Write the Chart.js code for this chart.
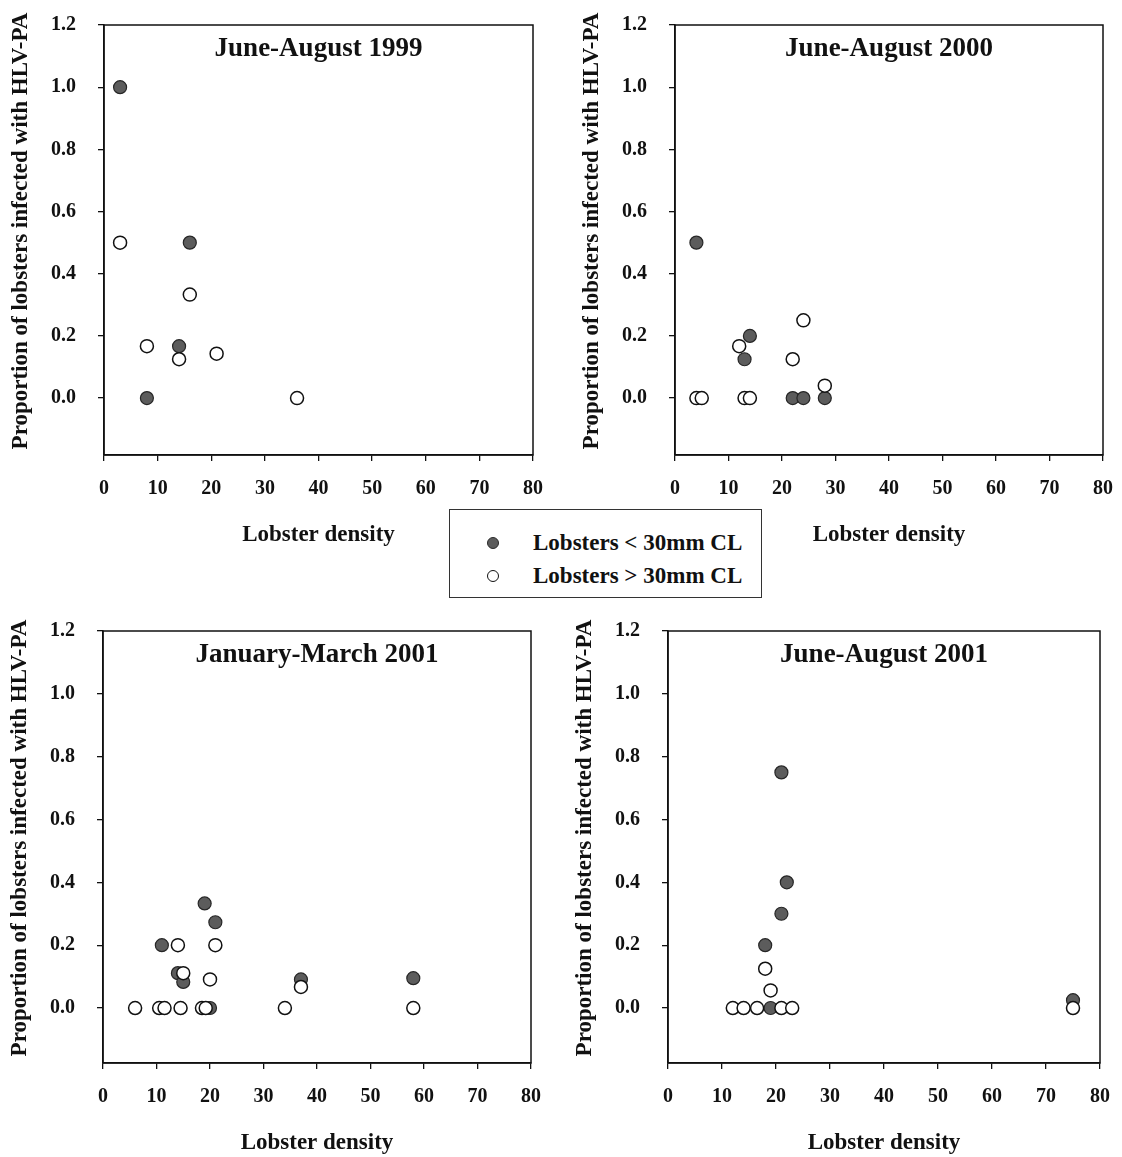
<!DOCTYPE html>
<html>
<head>
<meta charset="utf-8">
<script src="https://cdn.jsdelivr.net/npm/chart.js@4.4.1/dist/chart.umd.min.js"></script>
<style>
  body { margin: 0; background: #fff; width: 1122px; height: 1157px; position: relative; overflow: hidden;
         font-family: "Liberation Serif", "Times New Roman", serif; color: #111; }
  canvas { position: absolute; }
  .legend { position: absolute; left: 449px; top: 509px; width: 311px; height: 87px;
            border: 1.5px solid #333; background: #fff; z-index: 5; }
  .legend .row { position: absolute; left: 0; height: 26px; line-height: 26px; font-size: 23px; font-weight: bold; }
  .legend .dot { position: absolute; left: 37px; top: 7px; width: 12px; height: 12px; border-radius: 50%; box-sizing: border-box; }
  .legend .filled { background: #5c5c5c; border: 1px solid #2a2a2a; }
  .legend .open { background: #fff; border: 1.4px solid #111; }
  .legend .txt { position: absolute; left: 83px; white-space: nowrap; }
</style>
</head>
<body>
<canvas id="c1"></canvas>
<canvas id="c2"></canvas>
<canvas id="c3"></canvas>
<canvas id="c4"></canvas>

<div class="legend">
  <div class="row" style="top:20px"><span class="dot filled"></span><span class="txt">Lobsters &lt; 30mm CL</span></div>
  <div class="row" style="top:53px"><span class="dot open"></span><span class="txt">Lobsters &gt; 30mm CL</span></div>
</div>

<script>
// ---------------- data (lobster density, proportion infected) ----------------
const xTicks = [0, 10, 20, 30, 40, 50, 60, 70, 80];
const yTicks = [0, 0.2, 0.4, 0.6, 0.8, 1.0, 1.2];

const panelTitles = ['June-August 1999', 'June-August 2000', 'January-March 2001', 'June-August 2001'];

const small1999 = [[3, 1.0], [16, 0.5], [14, 0.167], [8, 0]];
const large1999 = [[3, 0.5], [16, 0.333], [8, 0.167], [14, 0.125], [21, 0.143], [36, 0]];

const small2000 = [[4, 0.5], [14, 0.2], [13, 0.125], [22, 0], [24, 0], [28, 0]];
const large2000 = [[24, 0.25], [12, 0.167], [22, 0.125], [28, 0.04], [4, 0], [5, 0], [13, 0], [14, 0]];

const smallJan2001 = [[11, 0.2], [19, 0.333], [21, 0.273], [14, 0.111], [15, 0.083], [20, 0], [37, 0.091], [58, 0.095]];
const largeJan2001 = [[6, 0], [10.5, 0], [11.5, 0], [14.5, 0], [18.5, 0], [19.2, 0], [34, 0], [58, 0],
                      [14, 0.2], [21, 0.2], [15, 0.111], [20, 0.091], [37, 0.067]];

const smallJun2001 = [[21, 0.75], [22, 0.4], [21, 0.3], [18, 0.2], [19, 0], [75, 0.025]];
const largeJun2001 = [[18, 0.125], [19, 0.056], [12, 0], [14, 0], [16.5, 0], [21, 0], [23, 0], [75, 0]];

// ---------------- layout ----------------
const FONT = '"Liberation Serif", "Times New Roman", serif';
const Y_AXIS_W = 104, X_AXIS_H = 105, PAD_T = 40, PAD_R = 30;
const yTitle = 'Proportion of lobsters infected with HLV-PA';

// box round the plot, panel title inside it, y title on the left
const framePlugin = {
  id: 'frame',
  afterDatasetsDraw(chart, args, opts) {
    const ctx = chart.ctx, a = chart.chartArea;
    ctx.save();
    ctx.strokeStyle = '#111';
    ctx.lineWidth = 1.5;
    ctx.strokeRect(a.left, a.top, a.right - a.left, a.bottom - a.top);
    ctx.fillStyle = '#111';
    ctx.textAlign = 'center';
    ctx.textBaseline = 'middle';
    ctx.font = 'bold 27px ' + FONT;
    ctx.fillText(opts.text, (a.left + a.right) / 2, a.top + 24);
    ctx.translate(a.left - 83, (a.top + a.bottom) / 2 - 9);
    ctx.rotate(-Math.PI / 2);
    ctx.font = 'bold 23px ' + FONT;
    ctx.fillText(yTitle, 0, 0);
    ctx.restore();
  }
};

function pts(arr) {
  return arr.map(p => ({ x: p[0], y: p[1] }));
}

function makePanel(id, box, title, small, large) {
  const cv = document.getElementById(id);
  cv.width = box.r - box.l + Y_AXIS_W + PAD_R;
  cv.height = box.b - box.t + PAD_T + X_AXIS_H;
  cv.style.left = (box.l - Y_AXIS_W) + 'px';
  cv.style.top = (box.t - PAD_T) + 'px';

  const axisFont = { family: FONT, size: 23, weight: 'bold' };
  const tickFont = { family: FONT, size: 20, weight: 'bold' };

  new Chart(cv, {
    type: 'scatter',
    data: {
      datasets: [
        { label: 'Lobsters > 30mm CL', data: pts(large), order: 0,
          backgroundColor: '#fff', borderColor: '#111', borderWidth: 1.5, pointRadius: 6.5 },
        { label: 'Lobsters < 30mm CL', data: pts(small), order: 1,
          backgroundColor: '#5c5c5c', borderColor: '#262626', borderWidth: 1.2, pointRadius: 6.5 }
      ]
    },
    options: {
      responsive: false,
      animation: false,
      layout: { padding: { left: 0, top: PAD_T, right: PAD_R, bottom: 0 } },
      plugins: { legend: { display: false }, tooltip: { enabled: false }, frame: { text: title } },
      scales: {
        x: {
          type: 'linear', min: 0, max: 80,
          afterBuildTicks: s => { s.ticks = xTicks.map(v => ({ value: v })); },
          afterFit: s => { s.height = X_AXIS_H; },
          grid: { drawOnChartArea: false, drawTicks: true, tickLength: 6, color: '#111', lineWidth: 1.3 },
          border: { display: true, color: '#111', width: 1.5 },
          ticks: { padding: 16, color: '#111', font: tickFont, maxRotation: 0, autoSkip: false },
          title: { display: true, text: 'Lobster density', color: '#111', font: axisFont, padding: { top: 0, bottom: 11 } }
        },
        y: {
          type: 'linear', min: box.ymin, max: 1.2,
          afterBuildTicks: s => { s.ticks = yTicks.map(v => ({ value: v })); },
          afterFit: s => { s.width = Y_AXIS_W; },
          grid: { drawOnChartArea: false, drawTicks: true, tickLength: 6, color: '#111', lineWidth: 1.3 },
          border: { display: true, color: '#111', width: 1.5 },
          ticks: { padding: 22, color: '#111', font: tickFont, autoSkip: false, callback: v => v.toFixed(1) }
        }
      }
    },
    plugins: [framePlugin]
  });
}

makePanel('c1', { l: 104, t: 25, r: 533, b: 455, ymin: -0.183 }, panelTitles[0], small1999, large1999);
makePanel('c2', { l: 675, t: 25, r: 1103, b: 455, ymin: -0.183 }, panelTitles[1], small2000, large2000);
makePanel('c3', { l: 103, t: 631, r: 531, b: 1063, ymin: -0.175 }, panelTitles[2], smallJan2001, largeJan2001);
makePanel('c4', { l: 668, t: 631, r: 1100, b: 1063, ymin: -0.175 }, panelTitles[3], smallJun2001, largeJun2001);
</script>
</body>
</html>
